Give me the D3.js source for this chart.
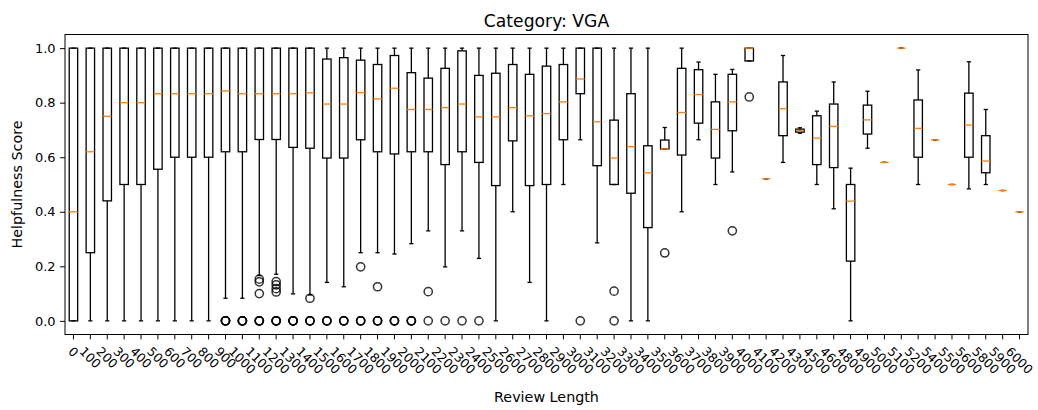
<!DOCTYPE html>
<html>
<head>
<meta charset="utf-8">
<script src="https://cdn.jsdelivr.net/npm/d3@7"></script>
<style>
  html, body { margin: 0; padding: 0; background: #fff; }
  svg { display: block; font-family: "DejaVu Sans", sans-serif; }
</style>
</head>
<body>
<svg id="chart" width="1038" height="410"></svg>
<script>
// Review length buckets
const categories = [
  "0","100","200","300","400","500","600","700","800","900",
  "1000","1100","1200","1300","1400","1500","1600","1700","1800","1900",
  "2000","2100","2200","2300","2400","2500","2600","2700","2800","2900",
  "3000","3100","3200","3300","3400","3500","3600","3700","3800","3900",
  "4000","4100","4200","4300","4500","4600","4800","4900","5000","5100",
  "5200","5400","5500","5600","5800","5900","6000"
];

// Box statistics per bucket
const whiskerLow = [
  0, 0, 0, 0, 0, 0, 0, 0, 0, 0.083,
  0.083, 0.166, 0.171, 0.099, 0.095, 0.141, 0.125, 0.25, 0.25, 0.245,
  0.283, 0.33, 0.198, 0.33, 0.229, 0, 0.40, 0.141, 0, 0.5,
  0.664, 0.286, 0.5, 0, 0, 0.63, 0.40, 0.664, 0.5, 0.546,
  0.953, 0.521, 0.581, 0.688, 0.5, 0.411, 0, 0.633, 0.581, 1.0,
  0.5, 0.664, 0.5, 0.484, 0.5, 0.478, 0.40
];
const q1 = [
  0, 0.25, 0.44, 0.5, 0.5, 0.556, 0.6, 0.6, 0.6, 0.62,
  0.62, 0.665, 0.665, 0.636, 0.633, 0.597, 0.597, 0.664, 0.62, 0.612,
  0.62, 0.62, 0.573, 0.62, 0.581, 0.496, 0.66, 0.496, 0.5, 0.664,
  0.833, 0.569, 0.5, 0.468, 0.342, 0.63, 0.608, 0.725, 0.597, 0.697,
  0.953, 0.521, 0.679, 0.692, 0.573, 0.562, 0.219, 0.685, 0.581, 1.0,
  0.60, 0.664, 0.5, 0.60, 0.543, 0.478, 0.40
];
const medians = [
  0.40, 0.62, 0.75, 0.8, 0.8, 0.833, 0.833, 0.833, 0.833, 0.843,
  0.833, 0.833, 0.833, 0.833, 0.836, 0.795, 0.795, 0.837, 0.814, 0.853,
  0.775, 0.775, 0.782, 0.795, 0.748, 0.748, 0.782, 0.752, 0.76, 0.803,
  0.887, 0.73, 0.597, 0.639, 0.543, 0.63, 0.764, 0.83, 0.702, 0.803,
  1.0, 0.521, 0.778, 0.698, 0.67, 0.713, 0.439, 0.737, 0.581, 1.0,
  0.706, 0.664, 0.5, 0.718, 0.586, 0.478, 0.40
];
const q3 = [
  1, 1, 1, 1, 1, 1, 1, 1, 1, 1,
  1, 1, 1, 1, 1, 0.96, 0.965, 0.956, 0.94, 0.973,
  0.91, 0.89, 0.926, 0.99, 0.90, 0.908, 0.94, 0.904, 0.934, 0.94,
  1, 1, 0.736, 0.833, 0.642, 0.663, 0.926, 0.921, 0.803, 0.904,
  1.0, 0.521, 0.876, 0.703, 0.752, 0.795, 0.5, 0.791, 0.581, 1.0,
  0.81, 0.664, 0.5, 0.835, 0.679, 0.478, 0.40
];
const whiskerHigh = [
  1, 1, 1, 1, 1, 1, 1, 1, 1, 1,
  1, 1, 1, 1, 1, 1, 1, 1, 1, 1,
  1, 1, 1, 1, 1, 1, 1, 1, 1, 1,
  1, 1, 1, 1, 1, 0.709, 1, 0.949, 0.904, 0.922,
  1.0, 0.521, 0.973, 0.708, 0.769, 0.876, 0.56, 0.842, 0.581, 1.0,
  0.92, 0.664, 0.5, 0.95, 0.775, 0.478, 0.40
];
// Fliers beyond the whiskers (repeated values stack on top of each other)
const fliers = [
  [], [], [], [], [], [], [], [], [], [0, 0, 0, 0],
  [0, 0, 0, 0], [0.153, 0.143, 0.1, 0, 0, 0, 0], [0.144, 0.132, 0.118, 0.106, 0, 0, 0, 0], [0, 0, 0, 0], [0.083, 0, 0, 0], [0, 0, 0], [0, 0, 0], [0.198, 0, 0, 0], [0.125, 0, 0, 0], [0, 0, 0],
  [0, 0, 0], [0.107, 0], [0], [0], [0], [], [], [], [], [],
  [0], [], [0.109, 0], [], [], [0.249], [], [], [], [0.33],
  [0.821], [], [], [], [], [], [], [], [], [],
  [], [], [], [], [], [], []
];
const yTicks = [0.0, 0.2, 0.4, 0.6, 0.8, 1.0];

const boxes = categories.map((c, i) => ({
  cat: c, lo: whiskerLow[i], q1: q1[i], med: medians[i], q3: q3[i], hi: whiskerHigh[i], out: fliers[i]
}));

const svg = d3.select("#chart");
const plotLeft = 65, plotRight = 1028, plotTop = 34.5, plotBottom = 334.5;

const x = d3.scaleBand().domain(categories).range([plotLeft, plotRight]).padding(0);
const y = d3.scaleLinear().domain([-0.05, 1.05]).range([plotBottom, plotTop]);
const bw = x.bandwidth();
const boxW = bw * 0.5, capW = bw * 0.25;
const cx = c => x(c) + bw / 2;

const lw = 1.3;
const g = svg.append("g");

// Whiskers
g.append("g").selectAll("line").data(boxes).join("line")
  .attr("x1", d => cx(d.cat)).attr("x2", d => cx(d.cat))
  .attr("y1", d => y(d.q1)).attr("y2", d => y(d.lo))
  .attr("stroke", "#000").attr("stroke-width", lw);
g.append("g").selectAll("line").data(boxes).join("line")
  .attr("x1", d => cx(d.cat)).attr("x2", d => cx(d.cat))
  .attr("y1", d => y(d.q3)).attr("y2", d => y(d.hi))
  .attr("stroke", "#000").attr("stroke-width", lw);
// Caps
["lo", "hi"].forEach(k => {
  g.append("g").selectAll("line").data(boxes).join("line")
    .attr("x1", d => cx(d.cat) - capW / 2).attr("x2", d => cx(d.cat) + capW / 2)
    .attr("y1", d => y(d[k])).attr("y2", d => y(d[k]))
    .attr("stroke", "#000").attr("stroke-width", lw);
});
// Boxes
g.append("g").selectAll("rect").data(boxes).join("rect")
  .attr("x", d => cx(d.cat) - boxW / 2).attr("width", boxW)
  .attr("y", d => y(d.q3)).attr("height", d => Math.max(0, y(d.q1) - y(d.q3)))
  .attr("fill", "none").attr("stroke", "#000").attr("stroke-width", lw);
// Medians
g.append("g").selectAll("line").data(boxes).join("line")
  .attr("x1", d => cx(d.cat) - boxW / 2).attr("x2", d => cx(d.cat) + boxW / 2)
  .attr("y1", d => y(d.med)).attr("y2", d => y(d.med))
  .attr("stroke", "#ff7f0e").attr("stroke-width", lw);
// Fliers
const flierPts = boxes.flatMap(d => d.out.map(v => ({ cat: d.cat, v })));
g.append("g").selectAll("circle").data(flierPts).join("circle")
  .attr("cx", d => cx(d.cat)).attr("cy", d => y(d.v)).attr("r", 4.1)
  .attr("fill", "none").attr("stroke", "#000").attr("stroke-width", 1.5).attr("stroke-opacity", 0.8);

// Frame
svg.append("rect").attr("x", plotLeft).attr("y", plotTop)
  .attr("width", plotRight - plotLeft).attr("height", plotBottom - plotTop)
  .attr("fill", "none").attr("stroke", "#000").attr("stroke-width", 1);

// Y axis
const yAxis = d3.axisLeft(y).tickValues(yTicks).tickFormat(d3.format(".1f")).tickSize(4.9).tickPadding(4.5);
const ya = svg.append("g").attr("transform", `translate(${plotLeft},0)`).call(yAxis);
ya.select(".domain").remove();
ya.selectAll("line").attr("stroke", "#000").attr("stroke-width", 1);
ya.selectAll("text").attr("font-family", "DejaVu Sans").attr("font-size", 13).attr("fill", "#000");

// X axis ticks
const xAxis = d3.axisBottom(x).tickSize(4.9).tickFormat("");
const xa = svg.append("g").attr("transform", `translate(0,${plotBottom})`).call(xAxis);
xa.select(".domain").remove();
xa.selectAll("line").attr("stroke", "#000").attr("stroke-width", 1);

// Rotated x tick labels: rotated bounding box centred under the tick
const fsx = 12.5;
const labelTop = plotBottom + 4.9 + 4.6;
const lbl = svg.append("g").selectAll("text").data(categories).join("text")
  .attr("font-size", fsx).attr("fill", "#000")
  .attr("text-anchor", "middle").attr("dominant-baseline", "central")
  .text(d => d);
lbl.each(function(d) {
  const w = this.getComputedTextLength();
  const h = fsx * 1.17;
  const half = (w + h) / (2 * Math.SQRT2);
  d3.select(this).attr("transform", `translate(${cx(d)},${labelTop + half}) rotate(45)`);
});

// Titles
svg.append("text").attr("x", (plotLeft + plotRight) / 2).attr("y", 27)
  .attr("text-anchor", "middle").attr("font-size", 17.2).attr("fill", "#000")
  .text("Category: VGA");
svg.append("text").attr("x", (plotLeft + plotRight) / 2).attr("y", 401.5)
  .attr("text-anchor", "middle").attr("font-size", 14.3).attr("fill", "#000")
  .text("Review Length");
svg.append("text").attr("transform", `translate(22,${(plotTop + plotBottom) / 2}) rotate(-90)`)
  .attr("text-anchor", "middle").attr("font-size", 14.3).attr("fill", "#000")
  .text("Helpfulness Score");
</script>
</body>
</html>
